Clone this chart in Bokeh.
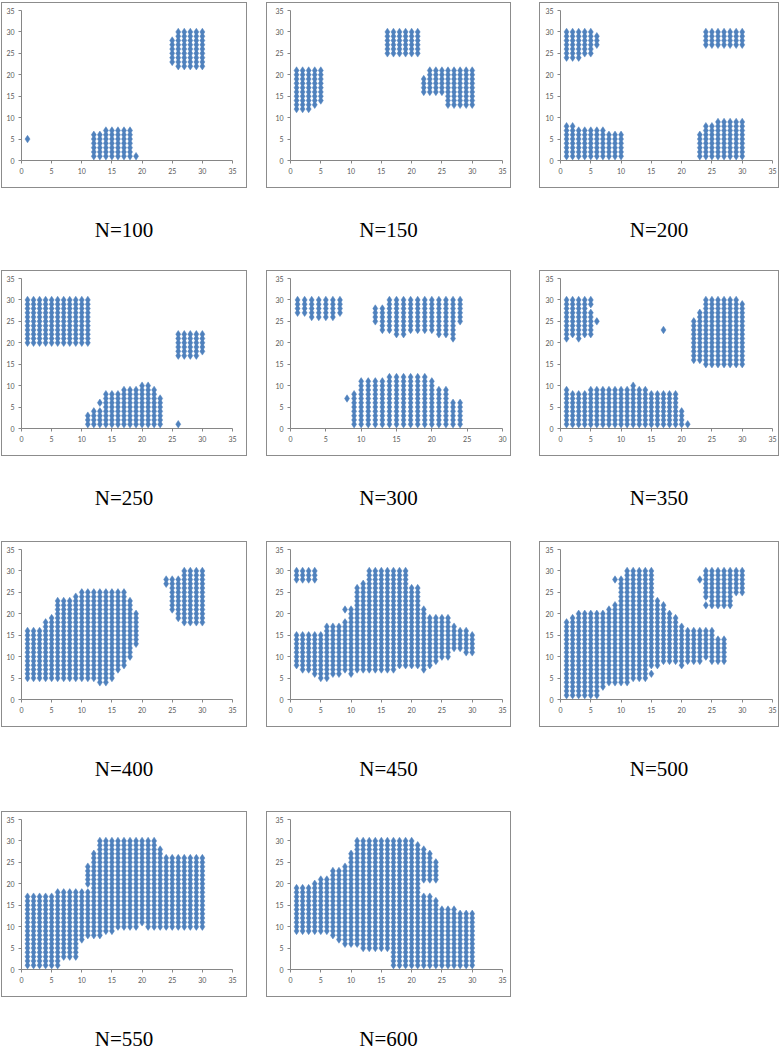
from bokeh.plotting import figure
from bokeh.layouts import column, row
from bokeh.models import Range1d, FixedTicker, Div, Spacer
from bokeh.embed import file_html
from bokeh.resources import INLINE

# Each panel: grid columns as runs (x, y_low, y_high); a repeated x means a second run.
n100_x = [1, 12, 13, 14, 15, 16, 17, 18, 19, 25, 26, 27, 28, 29, 30]
n100_lo = [5, 1, 1, 1, 1, 1, 1, 1, 1, 23, 22, 22, 22, 22, 22]
n100_hi = [5, 6, 6, 7, 7, 7, 7, 7, 1, 28, 30, 30, 30, 30, 30]

n150_x = [1, 2, 3, 4, 5, 16, 17, 18, 19, 20, 21, 22, 23, 24, 25, 26, 27, 28, 29, 30]
n150_lo = [12, 12, 12, 13, 14, 25, 25, 25, 25, 25, 25, 16, 16, 16, 16, 13, 13, 13, 13, 13]
n150_hi = [21, 21, 21, 21, 21, 30, 30, 30, 30, 30, 30, 19, 21, 21, 21, 21, 21, 21, 21, 21]

n200_x = [1, 2, 3, 4, 5, 6, 24, 25, 26, 27, 28, 29, 30,
          1, 2, 3, 4, 5, 6, 7, 8, 9, 10, 23, 24, 25, 26, 27, 28, 29, 30]
n200_lo = [24, 24, 24, 25, 25, 27, 27, 27, 27, 27, 27, 27, 27,
           1, 1, 1, 1, 1, 1, 1, 1, 1, 1, 1, 1, 1, 1, 1, 1, 1, 1]
n200_hi = [30, 30, 30, 30, 30, 29, 30, 30, 30, 30, 30, 30, 30,
           8, 8, 7, 7, 7, 7, 7, 6, 6, 6, 6, 8, 8, 9, 9, 9, 9, 9]

n250_x = [1, 2, 3, 4, 5, 6, 7, 8, 9, 10, 11, 26, 27, 28, 29, 30, 26,
          11, 12, 13, 13, 14, 15, 16, 17, 18, 19, 20, 21, 22, 23]
n250_lo = [20, 20, 20, 20, 20, 20, 20, 20, 20, 20, 20, 17, 17, 17, 17, 18, 1,
           1, 1, 1, 6, 1, 1, 1, 1, 1, 1, 1, 1, 1, 1]
n250_hi = [30, 30, 30, 30, 30, 30, 30, 30, 30, 30, 30, 22, 22, 22, 22, 22, 1,
           3, 4, 4, 6, 8, 8, 8, 9, 9, 9, 10, 10, 9, 7]

n300_x = [1, 2, 3, 4, 5, 6, 7,
          12, 13, 14, 15, 16, 17, 18, 19, 20, 21, 22, 23, 24,
          8, 9, 10, 11, 12, 13, 14, 15, 16, 17, 18, 19, 20, 21, 22, 23, 24]
n300_lo = [27, 27, 26, 26, 26, 26, 27,
           25, 23, 23, 22, 22, 23, 23, 23, 23, 22, 22, 21, 25,
           7, 1, 1, 1, 1, 1, 1, 1, 1, 1, 1, 1, 1, 1, 1, 1, 1]
n300_hi = [30, 30, 30, 30, 30, 30, 30,
           28, 28, 30, 30, 30, 30, 30, 30, 30, 30, 30, 30, 30,
           7, 8, 11, 11, 11, 11, 12, 12, 12, 12, 12, 12, 11, 9, 9, 6, 6]

n350_x = [1, 2, 3, 4, 5, 5, 6, 17,
          22, 23, 24, 25, 26, 27, 28, 29, 30,
          1, 2, 3, 4, 5, 6, 7, 8, 9, 10, 11, 12, 13, 14, 15, 16, 17, 18, 19, 20, 21]
n350_lo = [21, 22, 21, 22, 29, 22, 25, 23,
           16, 16, 15, 15, 15, 15, 15, 15, 15,
           1, 1, 1, 1, 1, 1, 1, 1, 1, 1, 1, 1, 1, 1, 1, 1, 1, 1, 1, 1, 1]
n350_hi = [30, 30, 30, 30, 30, 27, 25, 23,
           25, 27, 30, 30, 30, 30, 30, 30, 29,
           9, 8, 8, 8, 9, 9, 9, 9, 9, 9, 9, 10, 9, 9, 8, 8, 8, 8, 8, 4, 1]

n400_x = [1, 2, 3, 4, 5, 6, 7, 8, 9, 10, 11, 12, 13, 14, 15, 16, 17, 18, 19,
          24, 25, 26, 27, 28, 29, 30]
n400_lo = [5, 5, 5, 5, 5, 5, 5, 5, 5, 5, 5, 5, 4, 4, 5, 7, 8, 10, 13,
           27, 21, 19, 18, 18, 18, 18]
n400_hi = [16, 16, 16, 18, 19, 23, 23, 23, 24, 25, 25, 25, 25, 25, 25, 25, 25, 23, 20,
           28, 28, 28, 30, 30, 30, 30]

n450_x = [1, 2, 3, 4, 9,
          1, 2, 3, 4, 5, 6, 7, 8, 9, 10, 11, 12, 13, 14, 15,
          16, 17, 18, 19, 20, 21, 22, 23, 24, 25, 26, 27, 28, 29, 30]
n450_lo = [28, 28, 28, 28, 21,
           8, 7, 7, 6, 5, 5, 6, 6, 7, 6, 7, 7, 7, 7, 7,
           7, 7, 8, 8, 8, 8, 7, 8, 9, 10, 10, 12, 12, 11, 11]
n450_hi = [30, 30, 30, 30, 21,
           15, 15, 15, 15, 15, 17, 17, 17, 18, 21, 26, 27, 30, 30, 30,
           30, 30, 30, 30, 26, 26, 21, 19, 19, 19, 19, 17, 16, 16, 15]

n500_x = [1, 2, 3, 4, 5, 6, 7, 8, 9, 10, 11, 12, 13, 14, 15,
          16, 17, 18, 19, 20, 21, 22, 23, 24, 25, 26, 27, 9, 15,
          23, 24, 24, 25, 26, 27, 28, 29, 30]
n500_lo = [1, 1, 1, 1, 1, 1, 3, 4, 4, 4, 4, 5, 5, 5, 8,
           8, 9, 9, 9, 8, 9, 9, 9, 10, 9, 9, 9, 28, 6,
           28, 22, 24, 22, 22, 22, 22, 25, 25]
n500_hi = [18, 19, 20, 20, 20, 20, 20, 21, 22, 28, 30, 30, 30, 30, 30,
           23, 22, 20, 19, 17, 16, 16, 16, 16, 16, 14, 14, 28, 6,
           28, 22, 30, 30, 30, 30, 30, 30, 30]

n550_x = [1, 2, 3, 4, 5, 6, 7, 8, 9, 10, 11, 11, 12, 13, 14, 15,
          16, 17, 18, 19, 20, 21, 22, 23, 24, 25, 26, 27, 28, 29, 30]
n550_lo = [1, 1, 1, 1, 1, 1, 3, 3, 3, 7, 8, 20, 8, 8, 9, 9,
           10, 10, 10, 10, 11, 10, 10, 10, 10, 10, 10, 10, 10, 10, 10]
n550_hi = [17, 17, 17, 17, 17, 18, 18, 18, 18, 18, 18, 24, 27, 30, 30, 30,
           30, 30, 30, 30, 30, 30, 30, 28, 26, 26, 26, 26, 26, 26, 26]

n600_x = [1, 2, 3, 4, 5, 6, 7, 8, 9, 10, 11, 12, 13, 14, 15,
          16, 17, 18, 19, 20, 21, 22, 23, 24, 25, 26, 27, 28, 29, 30, 22, 23, 24]
n600_lo = [9, 9, 9, 9, 9, 9, 8, 7, 6, 6, 6, 5, 5, 5, 5,
           5, 1, 1, 1, 1, 1, 1, 1, 1, 1, 1, 1, 1, 1, 1, 21, 21, 21]
n600_hi = [19, 19, 19, 20, 21, 21, 23, 23, 24, 27, 30, 30, 30, 30, 30,
           30, 30, 30, 30, 30, 29, 17, 17, 16, 14, 14, 14, 13, 13, 13, 28, 27, 25]

labels = ["N=100", "N=150", "N=200", "N=250", "N=300", "N=350",
          "N=400", "N=450", "N=500", "N=550", "N=600"]
x_max = [35, 35, 35, 35, 30, 35, 35, 35, 35, 35, 35]
runs = [(n100_x, n100_lo, n100_hi), (n150_x, n150_lo, n150_hi), (n200_x, n200_lo, n200_hi),
        (n250_x, n250_lo, n250_hi), (n300_x, n300_lo, n300_hi), (n350_x, n350_lo, n350_hi),
        (n400_x, n400_lo, n400_hi), (n450_x, n450_lo, n450_hi), (n500_x, n500_lo, n500_hi),
        (n550_x, n550_lo, n550_hi), (n600_x, n600_lo, n600_hi)]

COL_GEOM = [(246, 20, 15), (245, 24, 9), (240, 21, 7)]  # width, left border, right border
GAPS = [19, 28]
ROW_DIV_H = [82, 85, 84, 50]
FIG_H = 186
BLUE = "#4F81BD"


def expand(xs, lo, hi):
    px, py = [], []
    for x, a, b in zip(xs, lo, hi):
        for y in range(a, b + 1):
            px.append(x)
            py.append(y)
    return px, py


def make_panel(i, col, div_h):
    w, lb, rb = COL_GEOM[col]
    xm = x_max[i]
    p = figure(width=w, height=FIG_H, x_range=Range1d(0, xm), y_range=Range1d(0, 35),
               output_backend="svg", toolbar_location=None,
               min_border_left=lb, min_border_right=rb, min_border_top=8, min_border_bottom=28)
    p.xgrid.visible = False
    p.ygrid.visible = False
    p.outline_line_color = None
    p.background_fill_color = None
    p.border_fill_color = None
    p.styles = {"box-shadow": "inset 0 0 0 1px #8c8c8c", "background-color": "white"}
    p.xaxis.ticker = FixedTicker(ticks=list(range(0, xm + 1, 5)))
    p.yaxis.ticker = FixedTicker(ticks=list(range(0, 36, 5)))
    for ax in (p.xaxis[0], p.yaxis[0]):
        ax.axis_line_color = "#868686"
        ax.major_tick_line_color = "#868686"
        ax.minor_tick_line_color = None
        ax.major_tick_out = 3
        ax.major_tick_in = 0
        ax.major_label_text_font_size = "7px"
        ax.major_label_text_color = "#595959"
        ax.major_label_text_font = "Lato"
        ax.major_label_standoff = 4
    xs, ys = expand(*runs[i])
    p.scatter(xs, ys, marker="diamond", size=7.5, fill_color=BLUE, line_color=BLUE, line_width=0.5)
    lab = Div(text=('<div style="padding-top:32px;text-align:center;font-family:\'Liberation Serif\';'
                    'font-size:21px;line-height:20px;color:#000;width:%dpx">%s</div>') % (w, labels[i]),
              width=w, height=div_h, margin=0)
    return column(p, lab, spacing=0)


rows = []
idx = 0
for r in range(4):
    cells = []
    for c in range(3):
        if idx < len(labels):
            cells.append(make_panel(idx, c, ROW_DIV_H[r]))
        else:
            cells.append(Spacer(width=COL_GEOM[c][0], height=FIG_H + ROW_DIV_H[r]))
        if c < 2:
            cells.append(Spacer(width=GAPS[c], height=10))
        idx += 1
    rows.append(row(*cells, spacing=0))

page = column(*rows, spacing=0, styles={"margin-left": "1px", "margin-top": "2px"})

open("out.html", "w").write(file_html(page, INLINE))
